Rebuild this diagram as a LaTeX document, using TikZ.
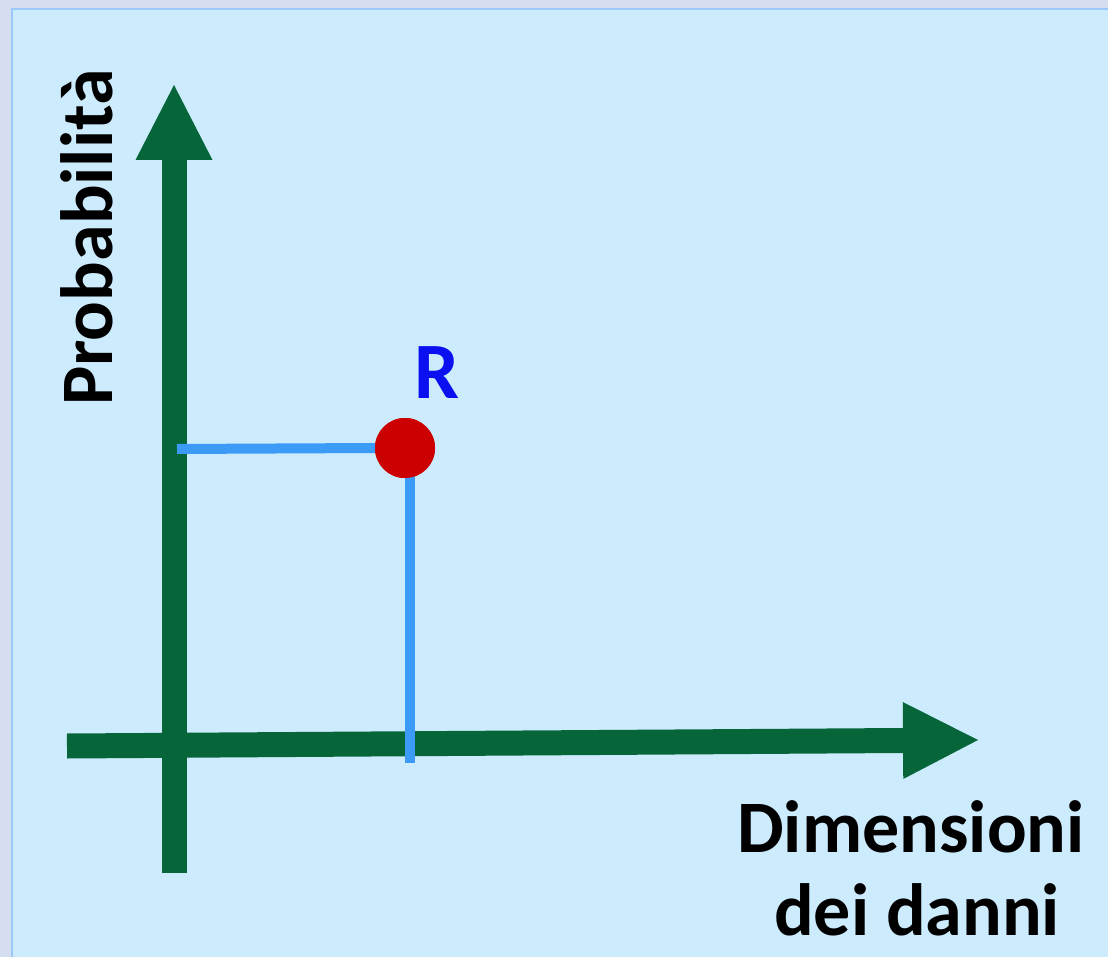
\documentclass[tikz,border=0pt]{standalone}
\usepackage{fontspec}
\setmainfont{Carlito}
\usetikzlibrary{arrows.meta}
\definecolor{outerbg}{HTML}{D5DDF1}
\definecolor{panelbg}{HTML}{CCEBFD}
\definecolor{panelrule}{HTML}{9CC9F7}
\definecolor{axisgreen}{HTML}{06663A}
\definecolor{guideblue}{HTML}{3B9BF7}
\definecolor{dotred}{HTML}{CC0000}
\definecolor{labelblue}{HTML}{0A10F0}
\tikzset{
  axis/.style={draw=axisgreen, line width=25pt, -{Triangle[width=77pt,length=75pt,line width=0pt]}, axisgreen},
  guide/.style={draw=guideblue, line width=10pt},
  lbl/.style={inner sep=0pt, font=\bfseries\fontsize{74}{88}\selectfont, text=black},
}
\begin{document}
\begin{tikzpicture}[x=1pt,y=-1pt]
\useasboundingbox (0,0) rectangle (1108,957);
\fill[outerbg] (0,0) rectangle (1108,957);
\fill[panelbg, draw=panelrule, line width=2pt] (12,9) rectangle (1115,965);

\coordinate (yb) at (174,873);
\coordinate (yt) at (174,85);
\coordinate (xl) at (67,746);
\coordinate (xr) at (978,740);
\coordinate (gl) at (177,449);
\coordinate (gb) at (410,763);

\draw[axis] (yb) -- (yt);
\draw[axis] (xl) -- (xr);

\node[circle, fill=dotred, minimum size=60pt, inner sep=0pt] (dot) at (405,448) {};
\draw[guide] (gl) -- (dot.west);
\draw[guide] (410,470) -- (gb);
\node[circle, fill=dotred, minimum size=60pt, inner sep=0pt] at (dot) {};

\node[inner sep=0pt, anchor=base, text=labelblue, font=\bfseries\fontsize{80}{90}\selectfont] (r) at (437,398) {R};
\node[lbl, rotate=90, anchor=base west] (prob) at (112,406) {Probabilità};
\node[lbl, anchor=base] (dim1) at (911,852) {Dimensioni};
\node[lbl, anchor=base] (dim2) at (917,935) {dei danni};
\end{tikzpicture}
\end{document}
